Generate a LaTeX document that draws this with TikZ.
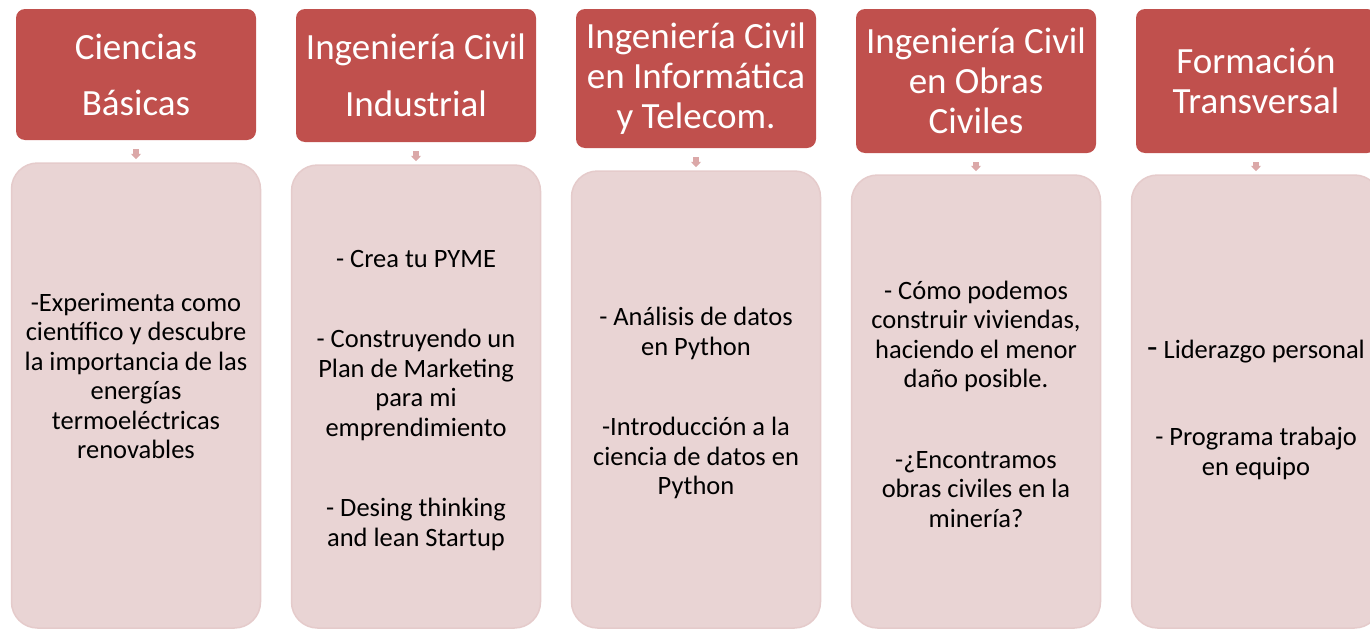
\documentclass[tikz,border=0pt]{standalone}
\usepackage{fontspec}
\setmainfont{Carlito}
\usetikzlibrary{arrows.meta,calc}
\definecolor{hdr}{HTML}{C0504D}
\definecolor{bodyfill}{HTML}{E9D4D4}
\definecolor{bodyline}{HTML}{E5CBCB}
\definecolor{arr}{HTML}{DBA8A8}
\begin{document}
\begin{tikzpicture}[x=1pt,y=-1pt,
  hdrbox/.style={fill=hdr, rounded corners=9pt, inner sep=0pt, text=white, align=center,
    minimum width=240pt, font=\fontsize{37}{40}\selectfont},
  bodybox/.style={fill=bodyfill, draw=bodyline, line width=1.5pt, rounded corners=26pt,
    minimum width=249pt, inner sep=0pt},
  bodytext/.style={align=center, font=\fontsize{26.5}{29.5}\selectfont, text=black, inner sep=0pt},
  conn/.style={draw=arr, line width=5.5pt, -{Triangle[width=10pt,length=5.5pt]},
    shorten <=9pt, shorten >=3pt}
]
\useasboundingbox (0,0) rectangle (1370,629);
\clip (0,0) rectangle (1370,629);

% headers
\node[hdrbox, minimum height=131pt] (h1) at (136,74.5) {Ciencias\\[16pt]Básicas};
\node[hdrbox, minimum height=133pt] (h2) at (416,75.5) {Ingeniería Civil\\[17pt]Industrial};
\node[hdrbox, minimum height=139pt] (h3) at (696,78.5) {Ingeniería Civil\\en Informática\\y Telecom.};
\node[hdrbox, minimum height=144pt] (h4) at (976,81) {Ingeniería Civil\\en Obras\\Civiles};
\node[hdrbox, minimum height=144pt] (h5) at (1256,81) {Formación\\Transversal};

% bodies
\node[bodybox, minimum height=465pt] (b1) at (136,395.5) {};
\node[bodybox, minimum height=463pt] (b2) at (416,396.5) {};
\node[bodybox, minimum height=457pt] (b3) at (696,399.5) {};
\node[bodybox, minimum height=453pt] (b4) at (976,401.5) {};
\node[bodybox, minimum height=453pt] (b5) at (1256,401.5) {};

% connectors
\draw[conn] (h1.south) -- (b1.north);
\draw[conn] (h2.south) -- (b2.north);
\draw[conn] (h3.south) -- (b3.north);
\draw[conn] (h4.south) -- (b4.north);
\draw[conn] (h5.south) -- (b5.north);

% body texts
\node[bodytext] (t1) at (136,376) {-Experimenta como\\científico y descubre\\la importancia de las\\energías\\termoeléctricas\\renovables};
\node[bodytext] (t2) at (416,400.5) {- Crea tu PYME\\[51pt]- Construyendo un\\Plan de Marketing\\para mi\\emprendimiento\\[51pt]- Desing thinking\\and lean Startup};
\node[bodytext] (t3) at (696,403) {- Análisis de datos\\en Python\\[51pt]-Introducción a la\\ciencia de datos en\\Python};
\node[bodytext] (t4) at (976,404) {- Cómo podemos\\construir viviendas,\\haciendo el menor\\daño posible.\\[51pt]-¿Encontramos\\obras civiles en la\\minería?};
\node[bodytext] (t5) at (1256,409.5) {{\fontsize{34}{29.5}\selectfont -} Liderazgo personal\\[58pt]- Programa trabajo\\en equipo};
\end{tikzpicture}
\end{document}
